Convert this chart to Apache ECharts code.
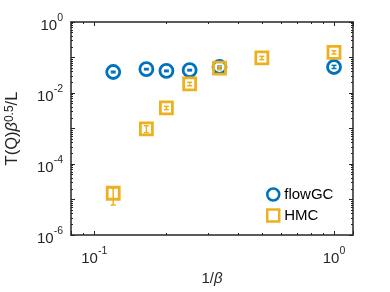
<!DOCTYPE html>
<html><head><meta charset="utf-8">
<script src="https://cdn.jsdelivr.net/npm/echarts@6/dist/echarts.min.js"></script>
<style>html,body{margin:0;padding:0;background:#fff}#c{width:390px;height:292px}</style>
</head><body><div id="c"></div>
<script>
// Data
const flowGC_x = [0.12, 0.165, 0.2, 0.25, 0.333, 1];
const flowGC_y = [0.039, 0.047, 0.042, 0.044, 0.054, 0.054];
const flowGC_lo = [0.037, 0.045, 0.040, 0.042, 0.051, 0.049];
const flowGC_hi = [0.041, 0.049, 0.044, 0.046, 0.057, 0.060];
const HMC_x = [0.12, 0.165, 0.2, 0.25, 0.333, 0.5, 1];
const HMC_y = [1.5e-5, 9.7e-4, 3.8e-3, 0.018, 0.050, 0.097, 0.14];
const HMC_lo = [7e-6, 7.6e-4, 3.4e-3, 0.016, 0.045, 0.087, 0.125];
const HMC_hi = [2.1e-5, 1.2e-3, 4.2e-3, 0.020, 0.055, 0.108, 0.155];
const yTickExps = [0, -2, -4, -6];
const xTickExps = [-1, 0];

const BLUE = '#0072BD', YEL = '#EDB120';
const FONT = 'Liberation Sans';
const TXT = '#262626';

function makeLabel(exps) {
  return function (v) {
    const e = Math.round(Math.log10(v));
    if (exps.indexOf(e) < 0) return '';
    return '{b|10}{s|' + e + '}';
  };
}
const richTick = {
  b: {fontSize: 15, fontFamily: FONT, color: TXT, padding: [7, 0, 0, 0]},
  s: {fontSize: 10.5, fontFamily: FONT, color: TXT, padding: [0, 0, 7, 0]}
};

function errSeries(name, xs, lo, hi, color) {
  return {
    type: 'custom', name: name + 'err', silent: true, z: 5,
    data: xs.map((x, i) => [x, lo[i], hi[i]]),
    renderItem: function (params, api) {
      const x = api.value(0);
      const p1 = api.coord([x, api.value(1)]);
      const p2 = api.coord([x, api.value(2)]);
      const w = 2.5;
      const st = {stroke: color, lineWidth: 1.5, fill: null};
      return {type: 'group', children: [
        {type: 'line', shape: {x1: p1[0], y1: p1[1], x2: p2[0], y2: p2[1]}, style: st},
        {type: 'line', shape: {x1: p1[0] - w, y1: p1[1], x2: p1[0] + w, y2: p1[1]}, style: st},
        {type: 'line', shape: {x1: p2[0] - w, y1: p2[1], x2: p2[0] + w, y2: p2[1]}, style: st}
      ]};
    }
  };
}

const axisLine = {show: true, lineStyle: {color: TXT, width: 1.5}};
const tick = {show: true, inside: true, length: 4, lineStyle: {color: TXT}};
const minor = {show: true, splitNumber: 9, length: 2, lineStyle: {color: TXT}};
const chart = echarts.init(document.getElementById('c'), null, {renderer: 'canvas'});
chart.setOption({
  animation: false,
  backgroundColor: '#fff',
  grid: {left: 71, right: 37, top: 22, bottom: 57, containLabel: false, outerBoundsMode: 'none'},
  xAxis: [{
    type: 'log', logBase: 10, min: 0.08, max: 1.2,
    axisLine: axisLine, axisTick: tick, minorTick: minor,
    splitLine: {show: false},
    axisLabel: {formatter: makeLabel(xTickExps), rich: richTick, margin: 9, showMinLabel: false, showMaxLabel: false},
    name: '{a|1/}{i|β}', nameLocation: 'middle', nameGap: 33,
    nameTextStyle: {rich: {a: {fontSize: 15, fontFamily: FONT, color: TXT}, i: {fontSize: 15, fontFamily: FONT, fontStyle: 'italic', color: TXT}}}
  }, {
    type: 'log', logBase: 10, min: 0.08, max: 1.2, position: 'top',
    axisLine: axisLine, axisTick: tick, minorTick: minor,
    splitLine: {show: false}, axisLabel: {show: false}
  }],
  yAxis: [{
    type: 'log', logBase: 10, min: 1e-6, max: 1,
    axisLine: axisLine, axisTick: tick, minorTick: minor,
    splitLine: {show: false},
    axisLabel: {formatter: makeLabel(yTickExps), rich: richTick, margin: 8},
    name: '{a|T(Q)}{i|β}{s|0.5}{a|/L}', nameLocation: 'middle', nameGap: 50, nameRotate: 90,
    nameTextStyle: {rich: {
      a: {fontSize: 16.5, fontFamily: FONT, color: TXT},
      i: {fontSize: 16.5, fontFamily: FONT, fontStyle: 'italic', color: TXT},
      s: {fontSize: 12, fontFamily: FONT, color: TXT, verticalAlign: 'top'}
    }}
  }, {
    type: 'log', logBase: 10, min: 1e-6, max: 1, position: 'right',
    axisLine: axisLine, axisTick: tick, minorTick: minor,
    splitLine: {show: false}, axisLabel: {show: false}
  }],
  legend: {
    left: 261, top: 182, orient: 'vertical', itemGap: 6, itemWidth: 12, itemHeight: 12,
    textStyle: {fontSize: 15, fontFamily: FONT, color: '#000'},
    data: [
      {name: 'flowGC', icon: 'circle', itemStyle: {color: 'transparent', borderColor: BLUE, borderWidth: 2.5}},
      {name: 'HMC', icon: 'rect', itemStyle: {color: 'transparent', borderColor: YEL, borderWidth: 2.5}}
    ]
  },
  series: [
    {
      name: 'flowGC', type: 'scatter', symbol: 'circle', symbolSize: 13, z: 4,
      data: flowGC_x.map((x, i) => [x, flowGC_y[i]]),
      itemStyle: {color: 'transparent', borderColor: BLUE, borderWidth: 2.8, opacity: 1}
    },
    errSeries('flowGC', flowGC_x, flowGC_lo, flowGC_hi, BLUE),
    {
      name: 'HMC', type: 'scatter', symbol: 'rect', symbolSize: 12, z: 6,
      data: HMC_x.map((x, i) => [x, HMC_y[i]]),
      itemStyle: {color: 'transparent', borderColor: YEL, borderWidth: 2.8, opacity: 1}
    },
    errSeries('HMC', HMC_x, HMC_lo, HMC_hi, YEL)
  ]
});
</script></body></html>
